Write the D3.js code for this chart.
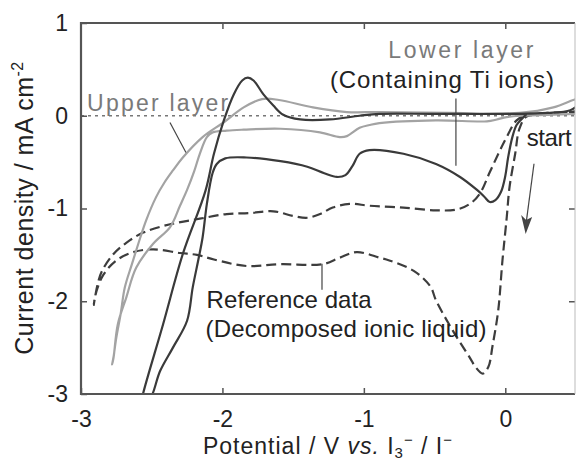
<!DOCTYPE html>
<html>
<head>
<meta charset="utf-8">
<script src="https://cdn.jsdelivr.net/npm/d3@7"></script>
<style>
  html, body { margin: 0; padding: 0; background: #fff; }
  svg { display: block; font-family: "Liberation Sans", Arial, sans-serif; }
</style>
</head>
<body>
<script>
// potential (V) / current density (mA cm-2) pairs

// lower layer (containing Ti ions), dark solid
const lowerLayer = [
  [0.15, 0.02], [0.12, -0.03], [0.08, -0.10], [0.05, -0.23], [0.02, -0.45],
  [0.00, -0.65], [-0.03, -0.82], [-0.07, -0.91], [-0.11, -0.93], [-0.15, -0.87],
  [-0.20, -0.80], [-0.32, -0.66], [-0.49, -0.52], [-0.72, -0.41], [-0.96, -0.37],
  [-1.03, -0.41], [-1.08, -0.54], [-1.13, -0.64], [-1.19, -0.66], [-1.28, -0.62],
  [-1.40, -0.55], [-1.59, -0.49], [-1.83, -0.45], [-1.98, -0.46], [-2.04, -0.52],
  [-2.07, -0.62], [-2.11, -0.95], [-2.14, -1.31], [-2.17, -1.55], [-2.21, -1.85],
  [-2.25, -2.21], [-2.35, -2.50], [-2.44, -2.75], [-2.52, -3.07],
  [-2.57, -3.07], [-2.56, -2.99], [-2.42, -2.25], [-2.28, -1.49], [-2.12, -0.81],
  [-2.06, -0.41], [-1.99, -0.05], [-1.92, 0.23], [-1.86, 0.38], [-1.82, 0.41],
  [-1.78, 0.38], [-1.71, 0.23], [-1.64, 0.11], [-1.57, 0.01], [-1.45, -0.04],
  [-1.24, -0.04], [-1.03, 0.00], [-0.89, 0.02], [-0.50, 0.02], [0.00, 0.02],
  [0.30, 0.03], [0.46, 0.06], [0.52, 0.12]
];

// upper layer, light grey solid
const upperLayer = [
  [0.52, 0.02], [0.30, 0.01], [0.10, 0.00], [-0.01, -0.02], [-0.06, -0.04],
  [-0.13, -0.06], [-0.49, -0.05], [-0.89, -0.08], [-0.96, -0.10], [-1.03, -0.13],
  [-1.12, -0.22], [-1.17, -0.23], [-1.31, -0.18], [-1.59, -0.14], [-1.85, -0.15],
  [-1.97, -0.16], [-2.07, -0.18], [-2.11, -0.23], [-2.16, -0.41], [-2.20, -0.60],
  [-2.25, -0.80], [-2.30, -0.97], [-2.37, -1.20], [-2.49, -1.38], [-2.61, -1.64],
  [-2.68, -1.96], [-2.74, -2.25], [-2.77, -2.61], [-2.78, -2.68],
  [-2.77, -2.60], [-2.75, -2.39], [-2.72, -2.14], [-2.69, -1.85], [-2.64, -1.60],
  [-2.58, -1.31], [-2.54, -1.13], [-2.47, -0.88], [-2.41, -0.72], [-2.35, -0.59],
  [-2.28, -0.45], [-2.14, -0.23], [-1.99, -0.07], [-1.85, 0.09], [-1.72, 0.18],
  [-1.60, 0.17], [-1.36, 0.09], [-1.12, 0.04], [-0.89, 0.04], [-0.40, 0.03],
  [0.10, 0.03], [0.34, 0.09], [0.48, 0.17], [0.52, 0.19]
];

// reference data (decomposed ionic liquid), dashed
const referenceData = [
  [0.52, 0.04], [0.30, 0.03], [0.15, -0.01], [0.10, -0.14], [0.07, -0.41],
  [0.03, -0.77], [0.01, -1.10], [-0.02, -1.56], [-0.05, -2.10], [-0.09, -2.48],
  [-0.12, -2.71], [-0.16, -2.78], [-0.21, -2.71], [-0.25, -2.61], [-0.37, -2.32],
  [-0.49, -1.99], [-0.53, -1.84], [-0.65, -1.67], [-0.82, -1.56], [-0.89, -1.53],
  [-1.05, -1.47], [-1.17, -1.53], [-1.29, -1.60], [-1.59, -1.60], [-1.83, -1.62],
  [-2.06, -1.55], [-2.18, -1.50], [-2.30, -1.48], [-2.49, -1.44], [-2.63, -1.47],
  [-2.75, -1.56], [-2.84, -1.71], [-2.89, -1.89], [-2.91, -2.04],
  [-2.88, -1.80], [-2.85, -1.67], [-2.77, -1.49], [-2.68, -1.37], [-2.56, -1.26],
  [-2.37, -1.17], [-2.16, -1.11], [-1.97, -1.06], [-1.81, -1.05], [-1.64, -1.03],
  [-1.50, -1.08], [-1.40, -1.10], [-1.31, -1.06], [-1.22, -0.99], [-1.10, -0.95],
  [-0.96, -0.97], [-0.72, -0.99], [-0.49, -1.02], [-0.34, -1.01], [-0.25, -0.95],
  [-0.18, -0.84], [-0.11, -0.61], [-0.04, -0.38], [0.01, -0.23], [0.08, -0.05],
  [0.15, 0.00], [0.28, 0.02], [0.52, 0.05]
];

const xTicks = [-3, -2, -1, 0];
const yTicks = [1, 0, -1, -2, -3];

const width = 576, height = 461;
const x = d3.scaleLinear().domain([-3, 0.5]).range([81, 576]);
const y = d3.scaleLinear().domain([-3, 1]).range([394, 23]);

const svg = d3.select("body").append("svg")
  .attr("width", width)
  .attr("height", height);

svg.append("clipPath").attr("id", "plot")
  .append("rect")
  .attr("x", x(-3)).attr("y", y(1))
  .attr("width", 575 - x(-3)).attr("height", y(-3) - y(1));

// zero line
svg.append("line")
  .attr("x1", x(-3)).attr("x2", 575)
  .attr("y1", y(0)).attr("y2", y(0))
  .attr("stroke", "#777").attr("stroke-width", 1.3)
  .attr("stroke-dasharray", "3,4");

const line = d3.line()
  .x(d => x(d[0]))
  .y(d => y(d[1]))
  .curve(d3.curveCatmullRom.alpha(0.5));

const curves = svg.append("g").attr("clip-path", "url(#plot)").attr("fill", "none");

curves.append("path").datum(referenceData)
  .attr("d", line)
  .attr("stroke", "#3d3d3d").attr("stroke-width", 2.2)
  .attr("stroke-dasharray", "10,5");

curves.append("path").datum(upperLayer)
  .attr("d", line)
  .attr("stroke", "#a3a3a3").attr("stroke-width", 2.2);

curves.append("path").datum(lowerLayer)
  .attr("d", line)
  .attr("stroke", "#3a3a3a").attr("stroke-width", 2.2);

// frame + ticks (inward)
const axisColor = "#555";
const styleAxis = g => {
  g.select(".domain").remove();
  g.selectAll(".tick line").attr("stroke", axisColor).attr("stroke-width", 1.5);
  g.selectAll("text").attr("fill", "#222").attr("font-size", 23)
    .attr("font-family", "'Liberation Sans', Arial, sans-serif");
};

svg.append("g").attr("transform", `translate(${x(-3)},0)`)
  .call(d3.axisLeft(y).tickValues(yTicks).tickSize(-6).tickPadding(13).tickFormat(d => String(d)))
  .call(styleAxis);

svg.append("g").attr("transform", `translate(0,${y(-3)})`)
  .call(d3.axisBottom(x).tickValues(xTicks).tickSize(-6).tickPadding(17).tickFormat(d => String(d)))
  .call(styleAxis);

svg.append("g").attr("transform", `translate(0,${y(1)})`)
  .call(d3.axisTop(x).tickValues([-2, -1, 0]).tickSize(-6).tickFormat(""))
  .call(styleAxis);

svg.append("g").attr("transform", "translate(575,0)")
  .call(d3.axisRight(y).tickValues([-2, -1]).tickSize(-6).tickFormat(""))
  .call(styleAxis);

svg.append("path")
  .attr("d", `M575,${y(1)} H${x(-3)} V${y(-3)} H575`)
  .attr("fill", "none").attr("stroke", axisColor).attr("stroke-width", 2.2);
svg.append("line")
  .attr("x1", 575).attr("x2", 575).attr("y1", y(1)).attr("y2", y(-3))
  .attr("stroke", "#bbb").attr("stroke-width", 1);

// axis titles
const xt = svg.append("text")
  .attr("x", 328).attr("y", 454)
  .attr("text-anchor", "middle")
  .attr("font-size", 23).attr("letter-spacing", 1).attr("fill", "#222");
xt.append("tspan").text("Potential / V ");
xt.append("tspan").attr("font-style", "italic").text("vs.");
xt.append("tspan").text(" I");
xt.append("tspan").attr("font-size", 15).attr("dy", 4).text("3");
xt.append("tspan").attr("font-size", 15).attr("dy", -13).text("\u2212");
xt.append("tspan").attr("dy", 9).text(" / I");
xt.append("tspan").attr("font-size", 15).attr("dy", -9).text("\u2212");

const yt = svg.append("text")
  .attr("transform", "translate(33,208) rotate(-90)")
  .attr("text-anchor", "middle")
  .attr("font-size", 25).attr("letter-spacing", 0.5).attr("fill", "#222");
yt.append("tspan").text("Current density / mA cm");
yt.append("tspan").attr("font-size", 16).attr("dy", -10).text("-2");

// annotations
const notes = [
  { t: "Upper layer", v: -2.957, j: 0.054, w: 141, s: 23, c: "#7a7a7a" },
  { t: "Lower layer", v: -0.827, j: 0.625, w: 145, s: 23, c: "#7a7a7a" },
  { t: "(Containing Ti ions)", v: -1.240, j: 0.300, w: 224, s: 24, c: "#222" },
  { t: "start", v: 0.151, j: -0.323, w: 45, s: 24, c: "#222" },
  { t: "Reference data", v: -2.112, j: -2.070, w: 165, s: 24, c: "#222" },
  { t: "(Decomposed ionic liquid)", v: -2.120, j: -2.383, w: 281, s: 24, c: "#222" }
];
svg.append("g").selectAll("text").data(notes).join("text")
  .attr("x", d => x(d.v)).attr("y", d => y(d.j))
  .attr("font-size", d => d.s)
  .attr("fill", d => d.c)
  .attr("textLength", d => d.w)
  .attr("lengthAdjust", "spacing")
  .text(d => d.t);

const leaders = [
  [[-2.371, -0.072], [-2.258, -0.396]],
  [[-0.349, 0.187], [-0.349, -0.539]],
  [[-1.296, -1.596], [-1.296, -1.876]],
  [[0.203, -0.518], [0.148, -1.15]]
];
svg.append("g").selectAll("line").data(leaders).join("line")
  .attr("x1", d => x(d[0][0])).attr("y1", d => y(d[0][1]))
  .attr("x2", d => x(d[1][0])).attr("y2", d => y(d[1][1]))
  .attr("stroke", "#444").attr("stroke-width", 1.2);

// arrow head
const tip = [x(0.144), y(-1.275)];
svg.append("path")
  .attr("d", `M${tip[0]},${tip[1]} L${tip[0] - 4.5},${tip[1] - 19} L${tip[0] + 0.5},${tip[1] - 14} L${tip[0] + 6.5},${tip[1] - 17} Z`)
  .attr("fill", "#444");
</script>
</body>
</html>
